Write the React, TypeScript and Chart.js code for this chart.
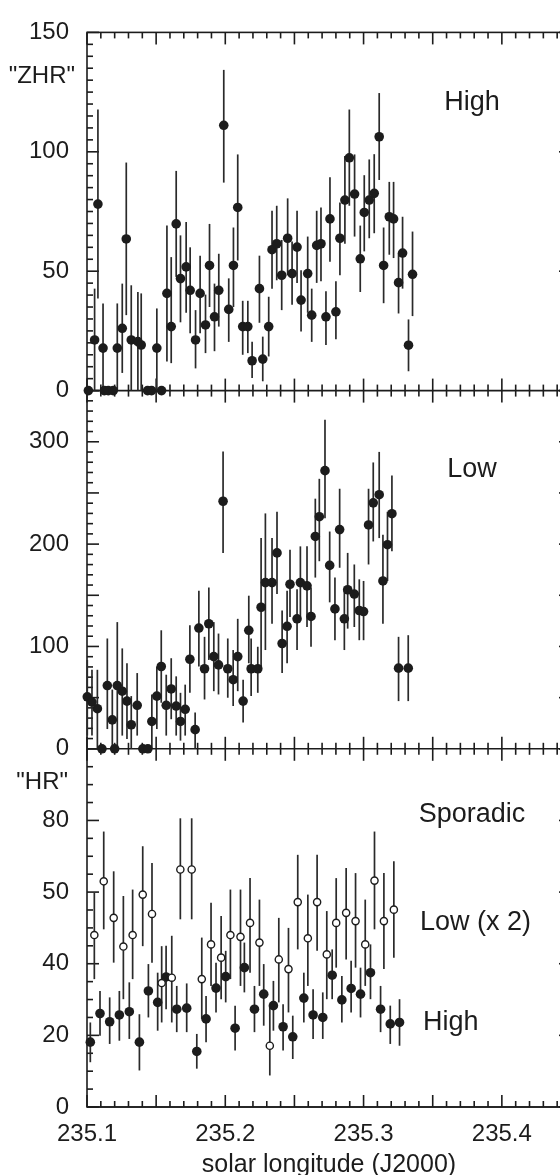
import React, { useEffect, useRef } from "react";
import { Chart, registerables } from "chart.js";

Chart.register(...registerables);

// ---------- data ----------
const xTickValues = [235.1, 235.2, 235.3, 235.4];
const topTickValues = [0, 50, 100, 150];
const midTickValues = [0, 100, 200, 300];
const botTickValues = [0, 20, 40, 60, 80];
const botTickLabels = ["0", "20", "40", "50", "80"];

// Panel 1: "ZHR" High
const zhrHighX = [235.1010, 235.1055, 235.1079, 235.1116, 235.1125, 235.1154, 235.1190, 235.1219, 235.1255, 235.1284, 235.1320, 235.1368, 235.1392, 235.1438, 235.1467, 235.1505, 235.1539, 235.1578, 235.1609, 235.1645, 235.1676, 235.1717, 235.1746, 235.1785, 235.1818, 235.1857, 235.1886, 235.1922, 235.1953, 235.1989, 235.2025, 235.2059, 235.2090, 235.2126, 235.2163, 235.2194, 235.2247, 235.2271, 235.2314, 235.2338, 235.2372, 235.2408, 235.2451, 235.2483, 235.2519, 235.2548, 235.2596, 235.2625, 235.2661, 235.2692, 235.2728, 235.2757, 235.2800, 235.2829, 235.2865, 235.2897, 235.2935, 235.2976, 235.3005, 235.3041, 235.3077, 235.3113, 235.3145, 235.3186, 235.3217, 235.3253, 235.3282, 235.3325, 235.3354];
const zhrHighY = [0, 21.2, 78.1, 17.8, 0, 0, 0, 17.8, 26.1, 63.5, 21.2, 20.5, 19.1, 0, 0, 17.8, 0, 40.7, 26.8, 69.8, 46.9, 51.8, 42, 21.2, 40.7, 27.5, 52.4, 30.9, 42, 111.1, 34, 52.4, 76.7, 26.8, 26.8, 12.5, 42.7, 13.2, 26.8, 59, 61.5, 48.3, 63.8, 49, 60.1, 37.9, 49, 31.6, 60.8, 61.5, 30.9, 71.9, 33, 63.8, 79.8, 97.5, 82.3, 55.2, 74.6, 79.8, 82.6, 106.3, 52.4, 72.8, 71.9, 45.2, 57.6, 19, 48.7];
const zhrHighLo = [null, 0, 38.6, 0, null, null, null, 0, 7.4, 31.6, 0, 0, 0, null, null, 0, null, 12.2, 11.5, 47.6, 28.6, 32.6, 24, 9.3, 24, 15.7, 35, 16.5, 26.8, 87.1, 20.4, 35, 54.5, 15, 15.7, 5.3, 28.4, 3.9, 14.3, 42.7, 46.2, 33.7, 48.3, 35.9, 45.1, 24.7, 32.6, 20.4, 45.1, 45.8, 19.1, 54, 21.5, 48.3, 61.5, 77.4, 64.5, 41.3, 58.3, 63.8, 65.9, 88.2, 36.6, 56.9, 55.5, 32.3, 42.7, 8.1, 31.2];
const zhrHighHi = [null, 42.7, 117.7, 36.5, null, null, null, 36.5, 44.8, 95.5, 44.1, 41.3, 40.7, null, null, 34.4, null, 69.1, 55.9, 92, 65, 70.6, 60, 33.7, 56.5, 40.2, 69.8, 44.8, 57.3, 134.3, 47, 68.3, 98.9, 37.6, 37.6, 20.5, 56.5, 22.6, 39.3, 75.3, 77.4, 63.1, 80.5, 62.4, 75.3, 50.4, 64.5, 42.7, 75.3, 76.7, 41.6, 89.3, 45.8, 78.8, 98.2, 117.7, 98.9, 69.1, 90.2, 96.8, 99, 124.6, 68.3, 87.4, 87.4, 57.6, 72.8, 29.8, 66.6];

// Panel 2: "ZHR" Low
const zhrLowX = [235.1002, 235.1036, 235.1075, 235.1108, 235.1147, 235.1183, 235.1200, 235.1219, 235.1255, 235.1289, 235.1320, 235.1363, 235.1404, 235.1440, 235.1469, 235.1505, 235.1537, 235.1573, 235.1609, 235.1645, 235.1676, 235.1710, 235.1744, 235.1782, 235.1809, 235.1850, 235.1881, 235.1917, 235.1951, 235.1984, 235.2018, 235.2057, 235.2090, 235.2129, 235.2170, 235.2187, 235.2235, 235.2259, 235.2290, 235.2338, 235.2374, 235.2411, 235.2447, 235.2468, 235.2519, 235.2543, 235.2591, 235.2620, 235.2651, 235.2680, 235.2721, 235.2755, 235.2793, 235.2827, 235.2861, 235.2885, 235.2933, 235.2969, 235.3000, 235.3036, 235.3070, 235.3113, 235.3140, 235.3173, 235.3205, 235.3253, 235.3323];
const zhrLowY = [50.8, 45.7, 39.2, 0, 61.8, 28.3, 0, 61.8, 56.3, 46.6, 23.5, 42.5, 0, 0, 26.7, 51.5, 80.4, 42.5, 58.5, 41.8, 26.7, 38.6, 87.5, 18.7, 118, 78.2, 122.2, 90.1, 82, 241.9, 78.2, 67.5, 90.1, 46.6, 115.8, 78.2, 78.2, 138.3, 162.4, 162.4, 191.4, 102.9, 119.7, 160.8, 127, 162.4, 159.2, 129.3, 207.5, 226.8, 271.8, 179.2, 136.7, 214.2, 127, 155.4, 151.2, 135.1, 134.1, 218.7, 240.3, 248.3, 164, 199.4, 229.7, 78.8, 78.8];
const zhrLowLo = [12.9, 12.9, 0, null, 19.3, 0, null, 0, 12.9, 9.6, 0, 12.9, null, null, 0, 19.3, 45, 12.9, 28.9, 12.9, 8, 12.9, 54.7, 0, 80.4, 48.2, 86.8, 56.3, 53.1, 191.4, 49.9, 41.8, 56.3, 25.7, 83.6, 51.5, 54.7, 77.2, 96.5, 122.2, 151.2, 74, 83.6, 128.7, 96.5, 128.7, 119, 99.7, 167.3, 183.3, 225.2, 143.1, 106.1, 176.9, 96.5, 117.4, 119, 106.1, 106.1, 180.1, 202.6, 205.9, 122.2, 164, 193, 46.6, 46.6];
const zhrLowHi = [86.8, 77.2, 77.2, null, 107.8, 57.9, null, 123.8, 98.1, 83.6, 51.5, 74, null, null, 53.1, 80.4, 115.8, 72.4, 88.5, 70.8, 54.7, 62.7, 120.6, 35.4, 154.4, 109.4, 157.6, 123.8, 112.6, 290.4, 107.8, 96.5, 127, 67.5, 149.6, 107.8, 99.7, 205.9, 230, 205.9, 231.6, 135.1, 154.4, 194.6, 156, 197.8, 197.8, 157.6, 244.4, 263.8, 321.6, 212.3, 167.3, 254.1, 154.4, 191.4, 180.1, 165.6, 164, 254.1, 279.8, 290.1, 209.1, 231.6, 267, 109.4, 111];

// Panel 3: "HR" Sporadic, Low (x 2) - open circles
const hrLowX = [235.1053, 235.1121, 235.1193, 235.1263, 235.1330, 235.1403, 235.1470, 235.1540, 235.1613, 235.1675, 235.1757, 235.1830, 235.1897, 235.1970, 235.2037, 235.2110, 235.2179, 235.2247, 235.2322, 235.2387, 235.2457, 235.2524, 235.2597, 235.2664, 235.2734, 235.2802, 235.2874, 235.2942, 235.3012, 235.3079, 235.3147, 235.3219];
const hrLowY = [48, 63, 52.8, 44.8, 48, 59.3, 53.9, 34.6, 36.1, 66.3, 66.3, 35.7, 45.4, 41.7, 48, 47.5, 51.4, 45.9, 17.1, 41.2, 38.5, 57.2, 47.1, 57.2, 42.6, 51.4, 54.2, 51.9, 45.4, 63.2, 51.9, 55.1];
const hrLowLo = [35.7, 49.6, 40.3, 30.1, 35.7, 44.9, 40.3, 23.6, 23.6, 52.4, 52.4, 24.6, 33.8, 30.1, 35.7, 33.8, 37.5, 33.8, 8.8, 29.2, 26.4, 44, 33.8, 43.6, 30.1, 38.9, 41.2, 38.9, 33.8, 49.6, 38.5, 41.7];
const hrLowHi = [59.8, 76.9, 65.8, 58.9, 60.7, 72.8, 68.1, 44.9, 47.8, 80.6, 80.6, 47.3, 57, 53.3, 60.7, 60.7, 63.9, 57.9, 28.3, 52.8, 50, 70.4, 59.3, 70.4, 54.7, 63.9, 66.7, 65.3, 57.9, 76.9, 65.3, 68.6];

// Panel 3: High - filled circles
const hrHighX = [235.1024, 235.1094, 235.1164, 235.1234, 235.1306, 235.1379, 235.1444, 235.1511, 235.1572, 235.1649, 235.1721, 235.1794, 235.1861, 235.1933, 235.2003, 235.2071, 235.2138, 235.2211, 235.2278, 235.2348, 235.2418, 235.2488, 235.2568, 235.2635, 235.2705, 235.2773, 235.2843, 235.2910, 235.2978, 235.3050, 235.3123, 235.3193, 235.3260];
const hrHighY = [18.1, 26.1, 23.8, 25.7, 26.6, 18.1, 32.4, 29.2, 36.3, 27.3, 27.6, 15.5, 24.6, 33.2, 36.4, 22, 38.9, 27.3, 31.5, 28.3, 22.4, 19.6, 30.4, 25.7, 25, 36.8, 29.9, 33.1, 31.5, 37.5, 27.3, 23.2, 23.6];
const hrHighLo = [12.5, 19.9, 17.6, 18.5, 19, 10.2, 25, 21.3, 27.3, 20.9, 20.9, 10.7, 18.1, 26.4, 29.2, 15.8, 32, 20.9, 22.7, 21.3, 15.8, 13.4, 23.6, 19, 19, 30.1, 23.6, 26.4, 25, 30.1, 20.9, 17.6, 17.1];
const hrHighHi = [23.6, 32.4, 30.6, 32.4, 34.8, 25.9, 39.9, 37.5, 45, 33.8, 34.5, 20.4, 31, 40.3, 43.6, 28.3, 45.9, 33.8, 39.9, 35.2, 28.7, 25.5, 37.5, 32.9, 32, 44, 36.6, 40.8, 38.9, 45.4, 33.8, 28.3, 30.1];

// ---------- styling ----------
const INK = "#1c1c1c";
const FONT = "'Liberation Sans', Arial, Helvetica, sans-serif";
const CANVAS_W = 592;
const CANVAS_H = 1175;

const zip = (xs: number[], ys: number[]) => xs.map((x, i) => ({ x, y: ys[i] }));

const panels = [
  { id: "yTop", max: 150, minor: 5, major: 50 },
  { id: "yMid", max: 350, minor: 10, major: 50 },
  { id: "yBot", max: 100, minor: 5, major: 20 },
];

const framePlugin = {
  id: "frameTicks",
  beforeDatasetsDraw(chart: any) {
    const ctx = chart.ctx as CanvasRenderingContext2D;
    const { left, right, top, bottom } = chart.chartArea;
    const xs = chart.scales.x;
    const line = (x1: number, y1: number, x2: number, y2: number) => {
      ctx.beginPath();
      ctx.moveTo(x1, y1);
      ctx.lineTo(x2, y2);
      ctx.stroke();
    };
    ctx.save();
    ctx.strokeStyle = INK;
    ctx.lineWidth = 1.6;
    ctx.strokeRect(left, top, right - left, bottom - top);
    for (const p of panels) {
      const s = chart.scales[p.id];
      line(left, s.bottom, right, s.bottom);
      const nx = Math.round((xs.max - xs.min) / 0.01);
      for (let i = 0; i <= nx; i++) {
        const px = xs.getPixelForValue(xs.min + i * 0.01);
        const len = i % 5 === 0 ? 12 : 6;
        line(px, s.top, px, s.top + len);
        line(px, s.bottom, px, s.bottom - len);
      }
      const ny = Math.round(p.max / p.minor);
      for (let k = 0; k <= ny; k++) {
        const v = k * p.minor;
        const py = s.getPixelForValue(v);
        const len = v % p.major === 0 ? 12 : 6;
        line(left, py, left + len, py);
        line(right, py, right - len, py);
      }
    }
    // error bars
    ctx.lineWidth = 1.7;
    ctx.strokeStyle = "#2a2a2a";
    chart.data.datasets.forEach((ds: any) => {
      const ys = chart.scales[ds.yAxisID];
      ds.errLo.forEach((lo: number | null, j: number) => {
        const hi = ds.errHi[j];
        if (lo == null || hi == null) return;
        const px = xs.getPixelForValue(ds.data[j].x);
        line(px, ys.getPixelForValue(lo), px, ys.getPixelForValue(hi));
      });
    });
    ctx.restore();
  },
  afterDraw(chart: any) {
    const ctx = chart.ctx as CanvasRenderingContext2D;
    ctx.save();
    ctx.fillStyle = INK;
    ctx.textBaseline = "middle";
    ctx.font = `24px ${FONT}`;
    ctx.textAlign = "right";
    ctx.fillText('"ZHR"', 75, 76);
    ctx.fillText('"HR"', 68, 782);
    ctx.font = `27px ${FONT}`;
    ctx.textAlign = "center";
    ctx.fillText("High", 472, 103);
    ctx.fillText("Low", 472, 470);
    ctx.fillText("Sporadic", 472, 815);
    ctx.textAlign = "left";
    ctx.fillText("Low (x 2)", 420, 923);
    ctx.fillText("High", 423, 1023);
    ctx.restore();
  },
};

const yAxis = (weight: number, max: number, values: number[], labels?: string[]) => ({
  type: "linear",
  position: "left",
  stack: "panels",
  stackWeight: 1,
  weight,
  min: 0,
  max,
  afterBuildTicks: (s: any) => {
    s.ticks = values.map((v) => ({ value: v }));
  },
  afterFit: (s: any) => {
    s.width = 87;
  },
  ticks: {
    font: { family: FONT, size: 24 },
    color: INK,
    padding: 18,
    callback: (v: any) => {
      const i = values.indexOf(Number(v));
      return labels && i >= 0 ? labels[i] : String(v);
    },
  },
  grid: { display: false, drawTicks: false },
  border: { display: false },
});

export default function App() {
  const ref = useRef<HTMLCanvasElement | null>(null);
  useEffect(() => {
    if (!ref.current) return;
    const pointStyle = {
      pointRadius: 4.8,
      pointBackgroundColor: INK,
      pointBorderWidth: 0,
      showLine: false,
      clip: false,
    };
    const chart = new Chart(ref.current, {
      type: "scatter",
      data: {
        datasets: [
          { label: "ZHR High", data: zip(zhrHighX, zhrHighY), yAxisID: "yTop", errLo: zhrHighLo, errHi: zhrHighHi, ...pointStyle } as any,
          { label: "ZHR Low", data: zip(zhrLowX, zhrLowY), yAxisID: "yMid", errLo: zhrLowLo, errHi: zhrLowHi, ...pointStyle } as any,
          {
            label: "HR Low (x 2)", data: zip(hrLowX, hrLowY), yAxisID: "yBot", errLo: hrLowLo, errHi: hrLowHi,
            pointRadius: 3.6, pointBackgroundColor: "#ffffff", pointBorderColor: INK, pointBorderWidth: 1.4, showLine: false, clip: false,
          } as any,
          { label: "HR High", data: zip(hrHighX, hrHighY), yAxisID: "yBot", errLo: hrHighLo, errHi: hrHighHi, ...pointStyle } as any,
        ],
      },
      options: {
        responsive: false,
        maintainAspectRatio: false,
        animation: false,
        devicePixelRatio: 1,
        events: [],
        layout: { padding: { left: 0, top: 24, right: CANVAS_W - 571, bottom: 0 } },
        plugins: { legend: { display: false }, tooltip: { enabled: false } },
        scales: {
          x: {
            type: "linear",
            position: "bottom",
            min: 235.1,
            max: 235.45,
            afterBuildTicks: (s: any) => {
              s.ticks = xTickValues.map((v) => ({ value: v }));
            },
            afterFit: (s: any) => {
              s.height = 68;
            },
            ticks: {
              font: { family: FONT, size: 24 },
              color: INK,
              padding: 13,
              maxRotation: 0,
              autoSkip: false,
              callback: (v: any) => Number(v).toFixed(1),
            },
            grid: { display: false, drawTicks: false },
            border: { display: false },
            title: {
              display: true,
              text: "solar longitude (J2000)",
              font: { family: FONT, size: 25 },
              color: INK,
              padding: { top: 0, bottom: -5 },
            },
          },
          yTop: yAxis(3, 150, topTickValues),
          yMid: yAxis(2, 350, midTickValues),
          yBot: yAxis(1, 100, botTickValues, botTickLabels),
        } as any,
      },
      plugins: [framePlugin],
    });
    return () => chart.destroy();
  }, []);

  return (
    <div style={{ position: "fixed", left: 0, top: 0, width: 560, height: 1175, overflow: "hidden", background: "#fff" }}>
      <canvas ref={ref} width={CANVAS_W} height={CANVAS_H} style={{ display: "block", width: CANVAS_W, height: CANVAS_H }} />
    </div>
  );
}
